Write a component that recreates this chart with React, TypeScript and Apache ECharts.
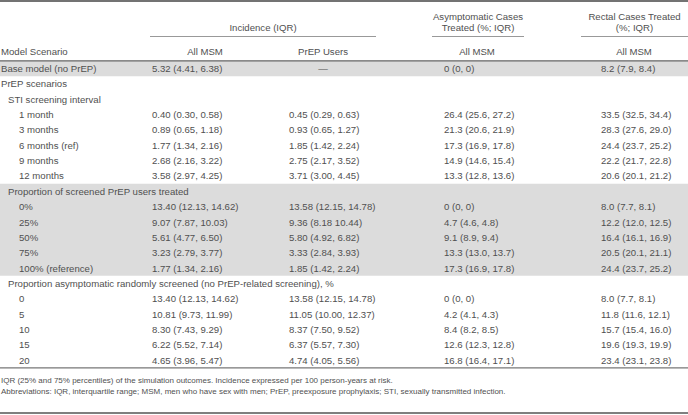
import React, { useEffect, useRef } from "react";
import * as echarts from "echarts";

// ---- Data ----
const groupHeaders = ["Incidence (IQR)", "Asymptomatic Cases\nTreated (%; IQR)", "Rectal Cases Treated\n(%; IQR)"];
const subHeaders = ["All MSM", "PrEP Users", "All MSM", "All MSM"];
const stubHeader = "Model Scenario";

const rowLabels = [
  "Base model (no PrEP)",
  "PrEP scenarios",
  "STI screening interval",
  "1 month",
  "3 months",
  "6 months (ref)",
  "9 months",
  "12 months",
  "Proportion of screened PrEP users treated",
  "0%",
  "25%",
  "50%",
  "75%",
  "100% (reference)",
  "Proportion asymptomatic randomly screened (no PrEP-related screening), %",
  "0",
  "5",
  "10",
  "15",
  "20",
];
const rowLevels = [0, 0, 1, 2, 2, 2, 2, 2, 1, 2, 2, 2, 2, 2, 1, 2, 2, 2, 2, 2];

const incidenceAll = [
  "5.32 (4.41, 6.38)", "", "",
  "0.40 (0.30, 0.58)", "0.89 (0.65, 1.18)", "1.77 (1.34, 2.16)", "2.68 (2.16, 3.22)", "3.58 (2.97, 4.25)",
  "",
  "13.40 (12.13, 14.62)", "9.07 (7.87, 10.03)", "5.61 (4.77, 6.50)", "3.23 (2.79, 3.77)", "1.77 (1.34, 2.16)",
  "",
  "13.40 (12.13, 14.62)", "10.81 (9.73, 11.99)", "8.30 (7.43, 9.29)", "6.22 (5.52, 7.14)", "4.65 (3.96, 5.47)",
];
const incidencePrep = [
  "—", "", "",
  "0.45 (0.29, 0.63)", "0.93 (0.65, 1.27)", "1.85 (1.42, 2.24)", "2.75 (2.17, 3.52)", "3.71 (3.00, 4.45)",
  "",
  "13.58 (12.15, 14.78)", "9.36 (8.18 10.44)", "5.80 (4.92, 6.82)", "3.33 (2.84, 3.93)", "1.85 (1.42, 2.24)",
  "",
  "13.58 (12.15, 14.78)", "11.05 (10.00, 12.37)", "8.37 (7.50, 9.52)", "6.37 (5.57, 7.30)", "4.74 (4.05, 5.56)",
];
const asymptomaticTreated = [
  "0 (0, 0)", "", "",
  "26.4 (25.6, 27.2)", "21.3 (20.6, 21.9)", "17.3 (16.9, 17.8)", "14.9 (14.6, 15.4)", "13.3 (12.8, 13.6)",
  "",
  "0 (0, 0)", "4.7 (4.6, 4.8)", "9.1 (8.9, 9.4)", "13.3 (13.0, 13.7)", "17.3 (16.9, 17.8)",
  "",
  "0 (0, 0)", "4.2 (4.1, 4.3)", "8.4 (8.2, 8.5)", "12.6 (12.3, 12.8)", "16.8 (16.4, 17.1)",
];
const rectalTreated = [
  "8.2 (7.9, 8.4)", "", "",
  "33.5 (32.5, 34.4)", "28.3 (27.6, 29.0)", "24.4 (23.7, 25.2)", "22.2 (21.7, 22.8)", "20.6 (20.1, 21.2)",
  "",
  "8.0 (7.7, 8.1)", "12.2 (12.0, 12.5)", "16.4 (16.1, 16.9)", "20.5 (20.1, 21.1)", "24.4 (23.7, 25.2)",
  "",
  "8.0 (7.7, 8.1)", "11.8 (11.6, 12.1)", "15.7 (15.4, 16.0)", "19.6 (19.3, 19.9)", "23.4 (23.1, 23.8)",
];
const footnotes = [
  "IQR (25% and 75% percentiles) of the simulation outcomes. Incidence expressed per 100 person-years at risk.",
  "Abbreviations: IQR, interquartile range; MSM, men who have sex with men; PrEP, preexposure prophylaxis; STI, sexually transmitted infection.",
];

// ---- Layout ----
const W = 688;
const FONT = "Liberation Sans, Arial, sans-serif";
const TXT = "#505050";
const FS = 9.6;
const rowY0 = 68.5;
const rowPitch = 15.35;
const levelX = [1, 8, 19];
const dataX = [152, 289, 444, 601];
const subHeaderX = [205, 323, 477, 634];
const groupSpans = [
  [150, 376],
  [432, 524],
  [581, 688],
];

function text(x: number, y: number, t: string, align = "left", size = FS, fill = TXT, lh?: number) {
  return {
    type: "text",
    x,
    y,
    silent: true,
    style: {
      text: t,
      fill,
      font: `${size}px ${FONT}`,
      fontSize: size,
      fontFamily: FONT,
      align,
      textAlign: align,
      verticalAlign: "middle",
      textVerticalAlign: "middle",
      lineHeight: lh ?? size + 2,
    },
  };
}
function line(x1: number, y1: number, x2: number, y2: number, stroke: string, w: number) {
  return { type: "line", silent: true, shape: { x1, y1, x2, y2 }, style: { stroke, lineWidth: w } };
}

export default function App() {
  const ref = useRef<HTMLDivElement>(null);
  useEffect(() => {
    if (!ref.current) return;
    const chart = echarts.init(ref.current, undefined, { renderer: "svg" });
    const els: any[] = [];
    const rowY = (i: number) => rowY0 + i * rowPitch;
    const half = rowPitch / 2;

    // shaded bands
    els.push({ type: "rect", silent: true, shape: { x: 0, y: rowY(0) - half, width: W, height: rowPitch }, style: { fill: "#dcdcdc" } });
    els.push({
      type: "rect", silent: true,
      shape: { x: 0, y: rowY(8) - half, width: W, height: rowPitch * 6 },
      style: { fill: "#dcdcdc" },
    });

    // rules
    els.push(line(0, 1, W, 1, "#444", 1.5));
    els.push(line(0, rowY(0) - half, W, rowY(0) - half, "#666", 1.3));
    els.push(line(0, rowY(19) + half, W, rowY(19) + half, "#777", 1.2));
    els.push(line(0, 413, W, 413, "#555", 1.5));
    groupSpans.forEach(([a, b]) => els.push(line(a, 36.5, b, 36.5, "#999", 1)));

    // headers
    els.push(text((groupSpans[0][0] + groupSpans[0][1]) / 2, 27.5, groupHeaders[0], "center"));
    els.push(text((groupSpans[1][0] + groupSpans[1][1]) / 2, 22, groupHeaders[1], "center", FS, TXT, 11));
    els.push(text((groupSpans[2][0] + groupSpans[2][1]) / 2, 22, groupHeaders[2], "center", FS, TXT, 11));
    els.push(text(levelX[0], 51, stubHeader));
    subHeaders.forEach((h, i) => els.push(text(subHeaderX[i], 51, h, "center")));

    // body
    const cols = [incidenceAll, incidencePrep, asymptomaticTreated, rectalTreated];
    rowLabels.forEach((lab, i) => {
      const y = rowY(i);
      els.push(text(levelX[rowLevels[i]], y, lab));
      cols.forEach((c, j) => {
        if (c[i]) {
          const isDash = c[i] === "—";
          els.push(text(isDash ? subHeaderX[j] : dataX[j], y, c[i], isDash ? "center" : "left"));
        }
      });
    });

    // footnotes
    els.push(text(1, 380, footnotes[0], "left", 8));
    els.push(text(1, 391, footnotes[1], "left", 8));

    chart.setOption({ animation: false, graphic: { elements: els } });
    return () => chart.dispose();
  }, []);
  return <div ref={ref} style={{ position: "fixed", left: 0, top: 0, width: 688, height: 415, background: "#fff" }} />;
}
